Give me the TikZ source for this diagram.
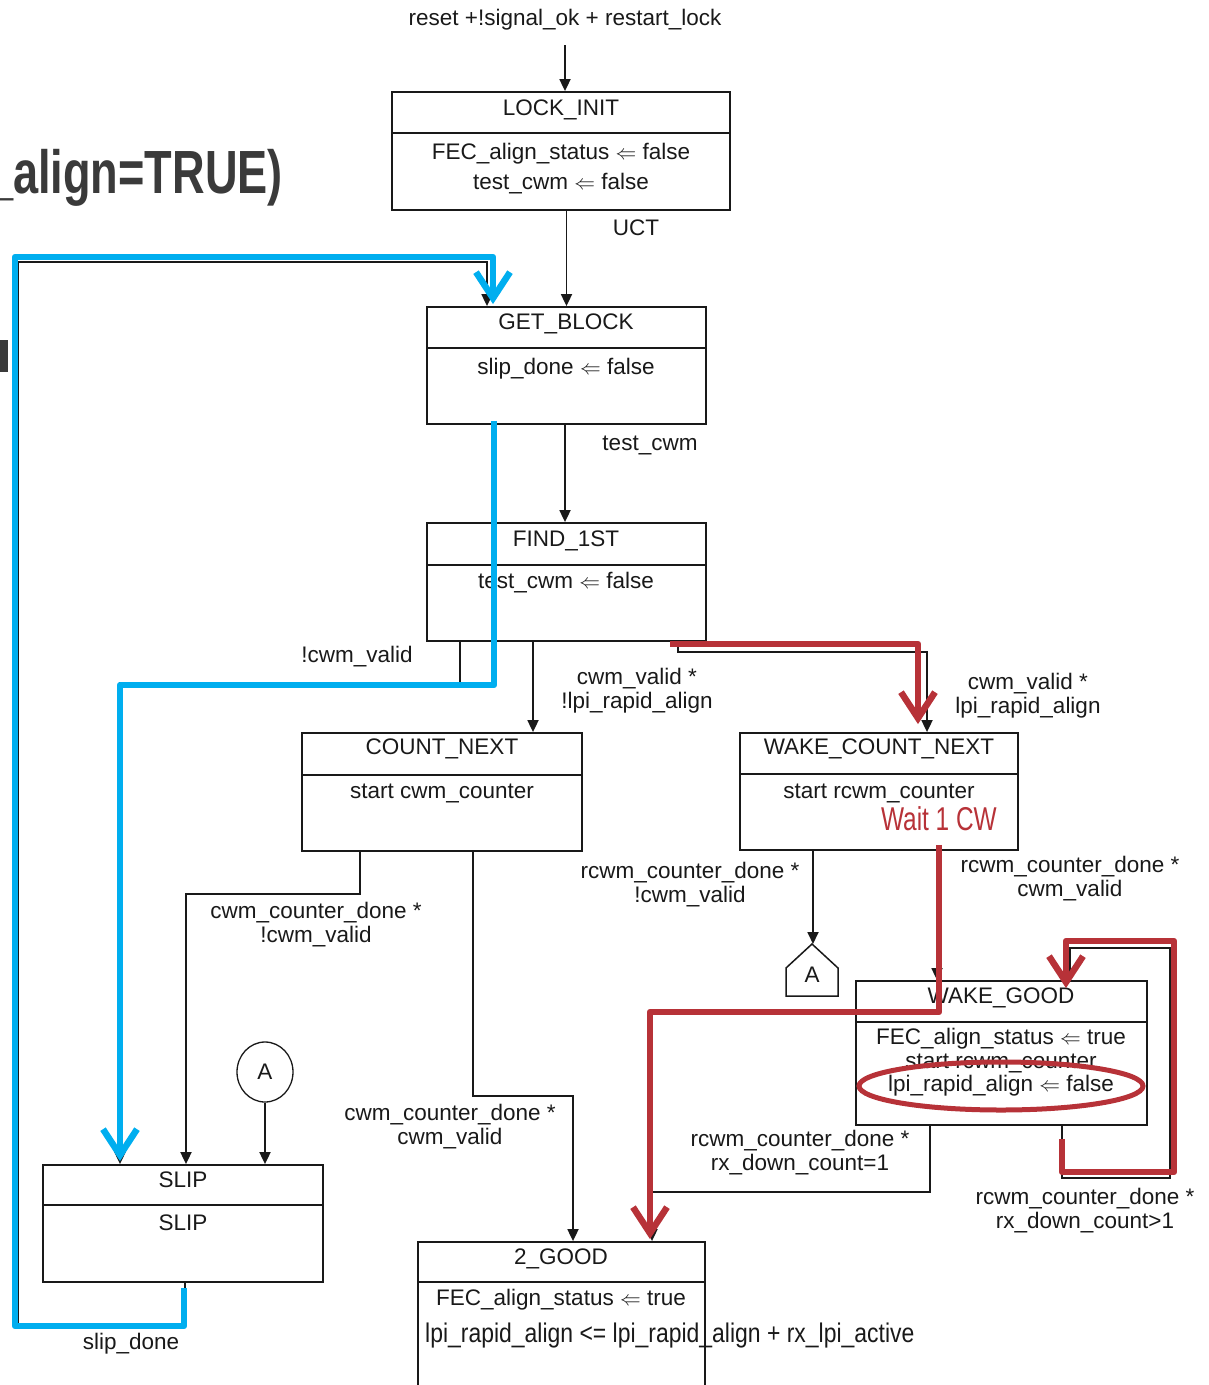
\documentclass[tikz,border=0pt]{standalone}
\usepackage{fontspec}
\setmainfont{Liberation Sans}
\newfontfamily\narrowfont[FakeStretch=0.74]{Liberation Sans}
\newfontfamily\narrowlpi[FakeStretch=0.85]{Liberation Sans}
\usetikzlibrary{arrows.meta,calc,shapes.geometric}
\definecolor{hiblue}{RGB}{0,174,239}
\definecolor{hired}{RGB}{183,50,56}
\definecolor{headgray}{RGB}{58,58,58}
\definecolor{inkblack}{RGB}{25,25,25}
\tikzset{
  every node/.style={font=\fontsize{22.5}{24}\selectfont, inner sep=0pt, text=inkblack},
  statebox/.style={draw=inkblack, line width=1.8pt, inner sep=0pt},
  divider/.style={draw=inkblack, line width=1.8pt},
  conn/.style={draw=inkblack, line width=1.8pt, -{Triangle[length=12pt,width=11pt]}},
  lbl/.style={align=center},
  bluepath/.style={hiblue, line width=6.5pt, line join=round},
  redpath/.style={hired, line width=6.5pt, line join=round},
  barb/.style={-{Straight Barb[length=26pt,width=34pt]}},
}
\begin{document}
\begin{tikzpicture}[x=1pt,y=-1pt]
\useasboundingbox (0,0) rectangle (1209,1385);

% heading fragment at the left edge
\node[anchor=base east, text=headgray, font=\narrowfont\bfseries\fontsize{61}{61}\selectfont] (heading) at (283,193) {\_align=TRUE)};
\fill[headgray] (0,340) rectangle (8,372);

% ---------- state boxes ----------
\node[statebox, minimum width=338pt, minimum height=118pt] (lockinit) at (561,151) {};
\node[statebox, minimum width=279pt, minimum height=117pt] (getblock) at (566.5,365.5) {};
\node[statebox, minimum width=279pt, minimum height=118pt] (find) at (566.5,582) {};
\node[statebox, minimum width=280pt, minimum height=118pt] (countnext) at (442,792) {};
\node[statebox, minimum width=278pt, minimum height=117pt] (wcn) at (879,791.5) {};
\node[statebox, minimum width=291pt, minimum height=144pt] (wakegood) at (1001.5,1053) {};
\node[statebox, minimum width=280pt, minimum height=117pt] (slip) at (183,1223.5) {};
\node[statebox, minimum width=287pt, minimum height=160pt] (twogood) at (561.5,1322) {};

% header dividers
\draw[divider] (lockinit.west |- 0,133) -- (lockinit.east |- 0,133);
\draw[divider] (getblock.west |- 0,348) -- (getblock.east |- 0,348);
\draw[divider] (find.west |- 0,565) -- (find.east |- 0,565);
\draw[divider] (countnext.west |- 0,775) -- (countnext.east |- 0,775);
\draw[divider] (wcn.west |- 0,774) -- (wcn.east |- 0,774);
\draw[divider] (wakegood.west |- 0,1022) -- (wakegood.east |- 0,1022);
\draw[divider] (slip.west |- 0,1205) -- (slip.east |- 0,1205);
\draw[divider] (twogood.west |- 0,1282) -- (twogood.east |- 0,1282);

% box texts
\node (lockinitT) at (561,110) {LOCK\_INIT};
\node (lockinitA) at (561,154) {FEC\_align\_status $\Leftarrow$ false};
\node (lockinitB) at (561,184) {test\_cwm $\Leftarrow$ false};
\node (getblockT) at (566,324) {GET\_BLOCK};
\node (getblockA) at (566,369) {slip\_done $\Leftarrow$ false};
\node (findT) at (566,541) {FIND\_1ST};
\node (findA) at (566,583) {test\_cwm $\Leftarrow$ false};
\node (countnextT) at (442,749) {COUNT\_NEXT};
\node (countnextA) at (442,793) {start cwm\_counter};
\node (wcnT) at (879,749) {WAKE\_COUNT\_NEXT};
\node (wcnA) at (879,793) {start rcwm\_counter};
\node[anchor=base east, text=hired, font=\narrowfont\fontsize{33}{33}\selectfont] (wait) at (997,830) {Wait 1 CW};
\node (wakegoodT) at (1001,998) {WAKE\_GOOD};
\node (wakegoodA) at (1001,1039) {FEC\_align\_status $\Leftarrow$ true};
\node (wakegoodB) at (1001,1063) {start rcwm\_counter};
\node (wakegoodC) at (1001,1086) {lpi\_rapid\_align $\Leftarrow$ false};
\node (slipT) at (183,1180) {SLIP};
\node (slipA) at (183,1223) {SLIP};
\node (twogoodT) at (561,1259) {2\_GOOD};
\node (twogoodA) at (561,1300) {FEC\_align\_status $\Leftarrow$ true};
\node[anchor=west, font=\narrowlpi\fontsize{27}{27}\selectfont] (twogoodB) at (425,1336) {lpi\_rapid\_align <= lpi\_rapid\_align + rx\_lpi\_active};

% connector A symbols
\node[draw=inkblack, ellipse, line width=1.3pt, minimum width=56pt, minimum height=60pt] (conA) at (265,1072) {A};
\node (offA) at (812,975) {A};
\draw[inkblack, line width=1.5pt] (786,996) -- (786,968) -- (812,944) -- (838,968) -- (838,996) -- cycle;
\coordinate (offAtop) at (813,944);

% ---------- transition labels ----------
\node (entrylbl) at (565,20) {reset +!signal\_ok + restart\_lock};
\node (uct) at (636,228) {UCT};
\node (tcwm) at (650,445) {test\_cwm};
\node (ncwm) at (357,657) {!cwm\_valid};
\node[lbl] (l1) at (637,691) {cwm\_valid *\\!lpi\_rapid\_align};
\node[lbl] (l2) at (1028,696) {cwm\_valid *\\lpi\_rapid\_align};
\node[lbl] (l3) at (690,885) {rcwm\_counter\_done *\\!cwm\_valid};
\node[lbl] (l4) at (1070,879) {rcwm\_counter\_done *\\cwm\_valid};
\node[lbl] (l5) at (316,925) {cwm\_counter\_done *\\!cwm\_valid};
\node[lbl] (l6) at (450,1127) {cwm\_counter\_done *\\cwm\_valid};
\node[lbl] (l7) at (800,1153) {rcwm\_counter\_done *\\rx\_down\_count=1};
\node[lbl] (l8) at (1085,1211) {rcwm\_counter\_done *\\rx\_down\_count>1};
\node (sdone) at (131,1344) {slip\_done};

% ---------- black transitions ----------
\coordinate (entry) at (565,45);
\draw[conn] (entry) -- (entry |- lockinit.north);
\draw[conn] (lockinit.south -| getblock.north) -- (getblock.north);
\draw[conn] (getblock.south -| 565,0) -- (find.north -| 565,0);
\draw[conn] (slip.south -| 185,0) -- (185,1325) -- (18,1325) -- (18,262) -| (getblock.north -| 487,0);
\draw[conn] (find.south -| 460,0) |- (120,683) -- (slip.north -| 120,0);
\draw[conn] (find.south -| 533,0) -- (countnext.north -| 533,0);
\draw[conn] (find.south -| 678,0) -- (678,652) -| (wcn.north -| 927,0);
\draw[conn] (countnext.south -| 360,0) |- (186,894) -- (slip.north -| 186,0);
\draw[conn] (countnext.south -| 473,0) |- (573,1096) -- (twogood.north -| 573,0);
\draw[conn] (wcn.south -| 813,0) -- (offAtop);
\draw[conn] (wcn.south -| 937,0) -- (wakegood.north -| 937,0);
\draw[conn] (wakegood.south -| 930,0) |- (652,1192) -- (twogood.north -| 652,0);
\draw[conn] (wakegood.south -| 1062,0) |- (1170,1178) |- (1070,948) -- (wakegood.north -| 1070,0);
\draw[conn] (conA.south) -- (slip.north -| conA.south);

% ---------- highlighted blue path ----------
\draw[bluepath, barb] ($(slip.south -| 184,0)+(0,5)$) -- (184,1326) -- (15,1326) -- (15,257) -| ($(getblock.north -| 493,0)+(0,-2)$);
\draw[bluepath, barb] ($(getblock.south -| 494,0)+(0,-4)$) |- (120,685) -- ($(slip.north -| 120,0)+(0,-3)$);

% ---------- highlighted red path ----------
\draw[redpath, barb] ($(find.south -| 670,0)+(0,2)$) -| ($(wcn.north -| 918,0)+(0,-8)$);
\draw[redpath, barb] ($(wcn.south -| 939,0)+(0,-6)$) |- (650,1012) -- ($(twogood.north -| 650,0)+(0,-2)$);
\draw[redpath, barb] ($(wakegood.south -| 1062,0)+(0,13)$) |- (1174,1172) |- (1066,941) -- ($(wakegood.north -| 1066,0)+(0,8)$);
\draw[hired, line width=5pt] (wakegoodC) ellipse [x radius=142pt, y radius=24pt];
\end{tikzpicture}
\end{document}
